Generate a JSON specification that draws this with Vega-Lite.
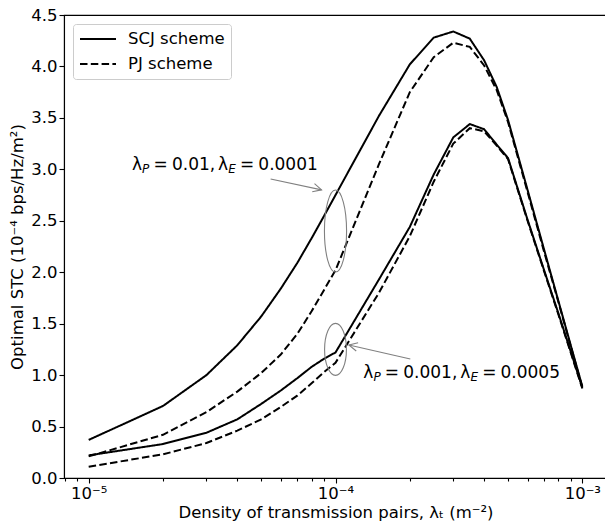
{
  "$schema": "https://vega.github.io/schema/vega-lite/v6.json",
  "width": 543,
  "height": 463,
  "autosize": {"type": "none"},
  "padding": {"left": 64, "top": 15, "right": 0, "bottom": 49},
  "background": "white",
  "config": {
    "font": "DejaVu Sans",
    "view": {"stroke": "black", "strokeWidth": 1.1},
    "axis": {
      "domainColor": "black",
      "tickColor": "black",
      "labelColor": "black",
      "titleColor": "black",
      "labelFont": "DejaVu Sans",
      "titleFont": "DejaVu Sans",
      "labelFontSize": 16.5,
      "titleFontSize": 16.5,
      "titleFontWeight": "normal",
      "grid": false,
      "tickWidth": 1.1,
      "domainWidth": 1.1
    }
  },
  "datasets": {
    "curves": [
      {"x": 1e-5, "y": 0.37, "curve": "A", "scheme": "SCJ scheme"},
      {"x": 2e-5, "y": 0.70, "curve": "A", "scheme": "SCJ scheme"},
      {"x": 3e-5, "y": 1.00, "curve": "A", "scheme": "SCJ scheme"},
      {"x": 4e-5, "y": 1.29, "curve": "A", "scheme": "SCJ scheme"},
      {"x": 5e-5, "y": 1.57, "curve": "A", "scheme": "SCJ scheme"},
      {"x": 6e-5, "y": 1.84, "curve": "A", "scheme": "SCJ scheme"},
      {"x": 7e-5, "y": 2.09, "curve": "A", "scheme": "SCJ scheme"},
      {"x": 8e-5, "y": 2.33, "curve": "A", "scheme": "SCJ scheme"},
      {"x": 9e-5, "y": 2.55, "curve": "A", "scheme": "SCJ scheme"},
      {"x": 1e-4, "y": 2.75, "curve": "A", "scheme": "SCJ scheme"},
      {"x": 1.5e-4, "y": 3.52, "curve": "A", "scheme": "SCJ scheme"},
      {"x": 2e-4, "y": 4.02, "curve": "A", "scheme": "SCJ scheme"},
      {"x": 2.5e-4, "y": 4.28, "curve": "A", "scheme": "SCJ scheme"},
      {"x": 3e-4, "y": 4.34, "curve": "A", "scheme": "SCJ scheme"},
      {"x": 3.5e-4, "y": 4.27, "curve": "A", "scheme": "SCJ scheme"},
      {"x": 4e-4, "y": 4.06, "curve": "A", "scheme": "SCJ scheme"},
      {"x": 4.5e-4, "y": 3.80, "curve": "A", "scheme": "SCJ scheme"},
      {"x": 5e-4, "y": 3.48, "curve": "A", "scheme": "SCJ scheme"},
      {"x": 6e-4, "y": 2.80, "curve": "A", "scheme": "SCJ scheme"},
      {"x": 7e-4, "y": 2.22, "curve": "A", "scheme": "SCJ scheme"},
      {"x": 8e-4, "y": 1.72, "curve": "A", "scheme": "SCJ scheme"},
      {"x": 9e-4, "y": 1.28, "curve": "A", "scheme": "SCJ scheme"},
      {"x": 1e-3, "y": 0.89, "curve": "A", "scheme": "SCJ scheme"},
      {"x": 1e-5, "y": 0.21, "curve": "B", "scheme": "PJ scheme"},
      {"x": 2e-5, "y": 0.42, "curve": "B", "scheme": "PJ scheme"},
      {"x": 3e-5, "y": 0.64, "curve": "B", "scheme": "PJ scheme"},
      {"x": 4e-5, "y": 0.84, "curve": "B", "scheme": "PJ scheme"},
      {"x": 5e-5, "y": 1.02, "curve": "B", "scheme": "PJ scheme"},
      {"x": 6e-5, "y": 1.20, "curve": "B", "scheme": "PJ scheme"},
      {"x": 7e-5, "y": 1.40, "curve": "B", "scheme": "PJ scheme"},
      {"x": 8e-5, "y": 1.62, "curve": "B", "scheme": "PJ scheme"},
      {"x": 9e-5, "y": 1.83, "curve": "B", "scheme": "PJ scheme"},
      {"x": 1e-4, "y": 2.02, "curve": "B", "scheme": "PJ scheme"},
      {"x": 1.5e-4, "y": 3.05, "curve": "B", "scheme": "PJ scheme"},
      {"x": 2e-4, "y": 3.75, "curve": "B", "scheme": "PJ scheme"},
      {"x": 2.5e-4, "y": 4.09, "curve": "B", "scheme": "PJ scheme"},
      {"x": 3e-4, "y": 4.23, "curve": "B", "scheme": "PJ scheme"},
      {"x": 3.5e-4, "y": 4.19, "curve": "B", "scheme": "PJ scheme"},
      {"x": 4e-4, "y": 4.01, "curve": "B", "scheme": "PJ scheme"},
      {"x": 4.5e-4, "y": 3.77, "curve": "B", "scheme": "PJ scheme"},
      {"x": 5e-4, "y": 3.46, "curve": "B", "scheme": "PJ scheme"},
      {"x": 6e-4, "y": 2.78, "curve": "B", "scheme": "PJ scheme"},
      {"x": 7e-4, "y": 2.20, "curve": "B", "scheme": "PJ scheme"},
      {"x": 8e-4, "y": 1.71, "curve": "B", "scheme": "PJ scheme"},
      {"x": 9e-4, "y": 1.27, "curve": "B", "scheme": "PJ scheme"},
      {"x": 1e-3, "y": 0.88, "curve": "B", "scheme": "PJ scheme"},
      {"x": 1e-5, "y": 0.22, "curve": "C", "scheme": "SCJ scheme"},
      {"x": 2e-5, "y": 0.33, "curve": "C", "scheme": "SCJ scheme"},
      {"x": 3e-5, "y": 0.44, "curve": "C", "scheme": "SCJ scheme"},
      {"x": 4e-5, "y": 0.57, "curve": "C", "scheme": "SCJ scheme"},
      {"x": 5e-5, "y": 0.72, "curve": "C", "scheme": "SCJ scheme"},
      {"x": 6e-5, "y": 0.85, "curve": "C", "scheme": "SCJ scheme"},
      {"x": 7e-5, "y": 0.97, "curve": "C", "scheme": "SCJ scheme"},
      {"x": 8e-5, "y": 1.08, "curve": "C", "scheme": "SCJ scheme"},
      {"x": 9e-5, "y": 1.16, "curve": "C", "scheme": "SCJ scheme"},
      {"x": 1e-4, "y": 1.22, "curve": "C", "scheme": "SCJ scheme"},
      {"x": 1.5e-4, "y": 1.93, "curve": "C", "scheme": "SCJ scheme"},
      {"x": 2e-4, "y": 2.44, "curve": "C", "scheme": "SCJ scheme"},
      {"x": 2.5e-4, "y": 2.95, "curve": "C", "scheme": "SCJ scheme"},
      {"x": 3e-4, "y": 3.31, "curve": "C", "scheme": "SCJ scheme"},
      {"x": 3.5e-4, "y": 3.44, "curve": "C", "scheme": "SCJ scheme"},
      {"x": 4e-4, "y": 3.39, "curve": "C", "scheme": "SCJ scheme"},
      {"x": 4.5e-4, "y": 3.24, "curve": "C", "scheme": "SCJ scheme"},
      {"x": 5e-4, "y": 3.11, "curve": "C", "scheme": "SCJ scheme"},
      {"x": 6e-4, "y": 2.51, "curve": "C", "scheme": "SCJ scheme"},
      {"x": 7e-4, "y": 2.02, "curve": "C", "scheme": "SCJ scheme"},
      {"x": 8e-4, "y": 1.60, "curve": "C", "scheme": "SCJ scheme"},
      {"x": 9e-4, "y": 1.22, "curve": "C", "scheme": "SCJ scheme"},
      {"x": 1e-3, "y": 0.88, "curve": "C", "scheme": "SCJ scheme"},
      {"x": 1e-5, "y": 0.11, "curve": "D", "scheme": "PJ scheme"},
      {"x": 2e-5, "y": 0.23, "curve": "D", "scheme": "PJ scheme"},
      {"x": 3e-5, "y": 0.34, "curve": "D", "scheme": "PJ scheme"},
      {"x": 4e-5, "y": 0.46, "curve": "D", "scheme": "PJ scheme"},
      {"x": 5e-5, "y": 0.57, "curve": "D", "scheme": "PJ scheme"},
      {"x": 6e-5, "y": 0.69, "curve": "D", "scheme": "PJ scheme"},
      {"x": 7e-5, "y": 0.80, "curve": "D", "scheme": "PJ scheme"},
      {"x": 8e-5, "y": 0.92, "curve": "D", "scheme": "PJ scheme"},
      {"x": 9e-5, "y": 1.03, "curve": "D", "scheme": "PJ scheme"},
      {"x": 1e-4, "y": 1.12, "curve": "D", "scheme": "PJ scheme"},
      {"x": 1.5e-4, "y": 1.80, "curve": "D", "scheme": "PJ scheme"},
      {"x": 2e-4, "y": 2.35, "curve": "D", "scheme": "PJ scheme"},
      {"x": 2.5e-4, "y": 2.88, "curve": "D", "scheme": "PJ scheme"},
      {"x": 3e-4, "y": 3.25, "curve": "D", "scheme": "PJ scheme"},
      {"x": 3.5e-4, "y": 3.40, "curve": "D", "scheme": "PJ scheme"},
      {"x": 4e-4, "y": 3.37, "curve": "D", "scheme": "PJ scheme"},
      {"x": 4.5e-4, "y": 3.23, "curve": "D", "scheme": "PJ scheme"},
      {"x": 5e-4, "y": 3.10, "curve": "D", "scheme": "PJ scheme"},
      {"x": 6e-4, "y": 2.50, "curve": "D", "scheme": "PJ scheme"},
      {"x": 7e-4, "y": 2.01, "curve": "D", "scheme": "PJ scheme"},
      {"x": 8e-4, "y": 1.59, "curve": "D", "scheme": "PJ scheme"},
      {"x": 9e-4, "y": 1.21, "curve": "D", "scheme": "PJ scheme"},
      {"x": 1e-3, "y": 0.87, "curve": "D", "scheme": "PJ scheme"}
    ]
  },
  "resolve": {"axis": {"x": "independent", "y": "independent"}},
  "layer": [
    {
      "data": {"name": "curves"},
      "mark": {"type": "line", "color": "black", "strokeWidth": 2},
      "encoding": {
        "x": {
          "field": "x", "type": "quantitative",
          "scale": {"type": "log", "domain": [7.943e-6, 1.2589e-3], "nice": false},
          "axis": {
            "orient": "bottom",
            "values": [1e-5, 1e-4, 1e-3],
            "labelExpr": "datum.value < 5e-5 ? '10⁻⁵' : datum.value < 5e-4 ? '10⁻⁴' : '10⁻³'",
            "tickSize": 5,
            "labelPadding": 2,
            "title": "Density of transmission pairs, λₜ (m⁻²)",
            "titlePadding": 3
          }
        },
        "y": {
          "field": "y", "type": "quantitative",
          "scale": {"domain": [0, 4.5], "nice": false, "zero": true},
          "axis": {
            "orient": "left",
            "values": [0, 0.5, 1, 1.5, 2, 2.5, 3, 3.5, 4, 4.5],
            "format": ".1f",
            "tickSize": 5,
            "labelPadding": 2,
            "title": "Optimal STC (10⁻⁴ bps/Hz/m²)",
            "titlePadding": 5
          }
        },
        "detail": {"field": "curve", "type": "nominal"},
        "strokeDash": {
          "field": "scheme", "type": "nominal",
          "scale": {"domain": ["SCJ scheme", "PJ scheme"], "range": [[1, 0], [7.5, 3.3]]},
          "legend": {
            "orient": "top-left",
            "offset": 9,
            "title": null,
            "symbolType": "M-1,0H3.5",
            "symbolSize": 256,
            "symbolStrokeWidth": 2,
            "symbolStrokeColor": "black",
            "labelFontSize": 16.5,
            "labelFont": "DejaVu Sans",
            "labelColor": "black",
            "labelOffset": 31,
            "fillColor": "white",
            "strokeColor": "#cccccc",
            "cornerRadius": 3,
            "padding": 6,
            "rowPadding": 7
          }
        }
      }
    },
    {
      "data": {"values": [{"x": 1e-4, "y": 2.40}]},
      "mark": {"type": "point", "shape": "M0,-1 A0.27,1 0 1,1 0,1 A0.27,1 0 1,1 0,-1", "size": 6724, "filled": false, "stroke": "#808080", "strokeWidth": 1.1, "opacity": 1},
      "encoding": {
        "x": {
          "field": "x", "type": "quantitative",
          "scale": {"type": "log", "domain": [7.943e-6, 1.2589e-3], "nice": false},
          "axis": {
            "orient": "bottom",
            "values": [8e-6, 9e-6, 2e-5, 3e-5, 4e-5, 5e-5, 6e-5, 7e-5, 8e-5, 9e-5, 2e-4, 3e-4, 4e-4, 5e-4, 6e-4, 7e-4, 8e-4, 9e-4],
            "labels": false,
            "domain": false,
            "tickSize": 3,
            "title": null
          }
        },
        "y": {"field": "y", "type": "quantitative", "axis": null}
      }
    },
    {
      "data": {"values": [{"x": 1e-4, "y": 1.25}]},
      "mark": {"type": "point", "shape": "M0,-1 A0.42,1 0 1,1 0,1 A0.42,1 0 1,1 0,-1", "size": 2704, "filled": false, "stroke": "#808080", "strokeWidth": 1.1, "opacity": 1},
      "encoding": {
        "x": {"field": "x", "type": "quantitative", "axis": null},
        "y": {"field": "y", "type": "quantitative", "axis": null}
      }
    },
    {
      "data": {"values": [
        {"x": 5.46e-5, "y": 2.906, "x2": 8.78e-5, "y2": 2.80},
        {"x": 2.01e-4, "y": 1.157, "x2": 1.133e-4, "y2": 1.293}
      ]},
      "mark": {"type": "rule", "color": "#808080", "strokeWidth": 1.1},
      "encoding": {
        "x": {"field": "x", "type": "quantitative", "axis": null},
        "y": {"field": "y", "type": "quantitative", "axis": null},
        "x2": {"field": "x2"},
        "y2": {"field": "y2"}
      }
    },
    {
      "data": {"values": [{"x": 8.78e-5, "y": 2.80}]},
      "mark": {"type": "point", "shape": "M-1,-0.5 L0,0 L-1,0.5", "size": 289, "angle": 15.5, "filled": false, "stroke": "#808080", "strokeWidth": 1.1, "opacity": 1},
      "encoding": {
        "x": {"field": "x", "type": "quantitative", "axis": null},
        "y": {"field": "y", "type": "quantitative", "axis": null}
      }
    },
    {
      "data": {"values": [{"x": 1.133e-4, "y": 1.293}]},
      "mark": {"type": "point", "shape": "M-1,-0.5 L0,0 L-1,0.5", "size": 289, "angle": 192.8, "filled": false, "stroke": "#808080", "strokeWidth": 1.1, "opacity": 1},
      "encoding": {
        "x": {"field": "x", "type": "quantitative", "axis": null},
        "y": {"field": "y", "type": "quantitative", "axis": null}
      }
    },
    {
      "data": {"values": [
        {"x": 1.498e-5, "y": 2.9935, "t": "λ"},
        {"x": 1.831e-5, "y": 2.9935, "t": "="},
        {"x": 2.174e-5, "y": 2.9935, "t": "0.01,"},
        {"x": 3.345e-5, "y": 2.9935, "t": "λ"},
        {"x": 4.101e-5, "y": 2.9935, "t": "="},
        {"x": 4.867e-5, "y": 2.9935, "t": "0.0001"},
        {"x": 1.296e-4, "y": 0.9719, "t": "λ"},
        {"x": 1.584e-4, "y": 0.9719, "t": "="},
        {"x": 1.881e-4, "y": 0.9719, "t": "0.001,"},
        {"x": 3.204e-4, "y": 0.9719, "t": "λ"},
        {"x": 3.927e-4, "y": 0.9719, "t": "="},
        {"x": 4.662e-4, "y": 0.9719, "t": "0.0005"}
      ]},
      "mark": {"type": "text", "align": "left", "baseline": "alphabetic", "fontSize": 17, "font": "DejaVu Sans", "color": "black"},
      "encoding": {
        "x": {"field": "x", "type": "quantitative", "axis": null},
        "y": {"field": "y", "type": "quantitative", "axis": null},
        "text": {"field": "t"}
      }
    },
    {
      "data": {"values": [
        {"x": 1.646e-5, "y": 2.964, "t": "P"},
        {"x": 3.675e-5, "y": 2.964, "t": "E"},
        {"x": 1.424e-4, "y": 0.9428, "t": "P"},
        {"x": 3.520e-4, "y": 0.9428, "t": "E"}
      ]},
      "mark": {"type": "text", "align": "left", "baseline": "alphabetic", "fontSize": 12, "fontStyle": "italic", "font": "DejaVu Sans", "color": "black"},
      "encoding": {
        "x": {"field": "x", "type": "quantitative", "axis": null},
        "y": {"field": "y", "type": "quantitative", "axis": null},
        "text": {"field": "t"}
      }
    }
  ]
}
